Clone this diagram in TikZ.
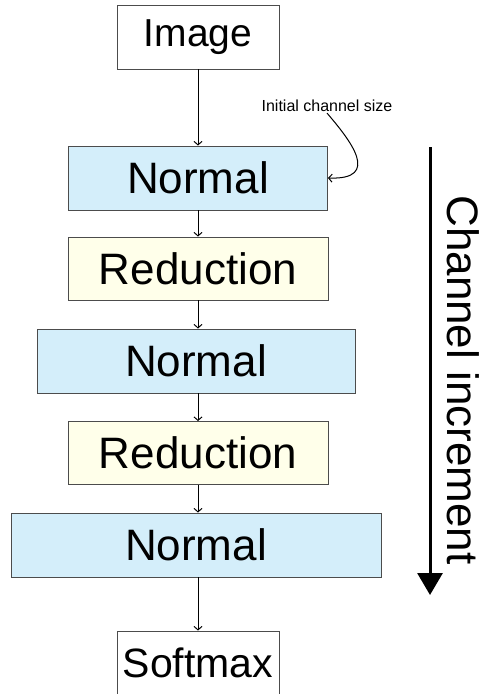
\documentclass[tikz,border=0pt]{standalone}
\usepackage{fontspec}
\setmainfont{Liberation Sans}
\usepackage{tikz}
\usetikzlibrary{arrows.meta}
\definecolor{cellblue}{RGB}{212,238,250}
\definecolor{cellyellow}{RGB}{255,255,234}

\begin{document}
\begin{tikzpicture}[x=1pt, y=-1pt,
		cell/.style={draw=black!70, line width=0.9pt, minimum width=162pt, minimum height=64pt, inner sep=0pt, font=\fontsize{40pt}{46pt}\selectfont},
		normalcell/.style={cell, fill=cellblue, font=\fontsize{44pt}{50pt}\selectfont},
		reducecell/.style={cell, fill=cellyellow, minimum width=260pt, minimum height=63pt, font=\fontsize{44pt}{50pt}\selectfont},
		flow/.style={line width=1pt, -{Straight Barb[length=3.5pt,width=8pt]}},
		node distance=92pt]
			\useasboundingbox (0,0) rectangle (486,694);
			\node[cell, font=\fontsize{39pt}{45pt}\selectfont] (img) at (198,37) {Image};
			\node[normalcell, minimum width=259pt, node distance=141pt, below of=img] (n1) {Normal};
			\node[reducecell, node distance=90.5pt, below of=n1] (r1) {Reduction};
			\node[normalcell, minimum width=318pt, node distance=92.5pt, below of=r1, xshift=-2pt] (n2) {Normal};
			\node[reducecell, below of=n2, xshift=2pt] (r2) {Reduction};
			\node[normalcell, minimum width=370pt, below of=r2, xshift=-2pt] (n3) {Normal};
			\node[cell, font=\fontsize{41pt}{47pt}\selectfont, node distance=118pt, below of=n3, xshift=2pt] (sm) {Softmax};
			
			\draw[flow] (img) -- (n1);
			\draw[flow] (n1) -- (r1);
			\draw[flow] (r1.south) -- (r1.south |- n2.north);
			\draw[flow] (r1.south |- n2.south) -- (r2.north);
			\draw[flow] (r2.south) -- (r2.south |- n3.north);
			\draw[flow] (r2.south |- n3.south) -- (sm.north);
			
			\node[font=\fontsize{16pt}{18pt}\selectfont, inner sep=1pt] (init) at (327,106) {Initial channel size};
			\draw[flow] (init.south) .. controls (350,140) and (382,180) .. (n1.east);
			
			\coordinate (chtop) at (430,147);
			\coordinate (chbot) at (430,595);
			\draw[line width=3pt, -{Triangle[length=22pt,width=25pt]}] (chtop) -- (chbot);
			\node[font=\fontsize{44pt}{50pt}\selectfont, rotate=-90, inner sep=0pt] (chinc) at (463,380) {Channel increment};
		\end{tikzpicture}
\end{document}
